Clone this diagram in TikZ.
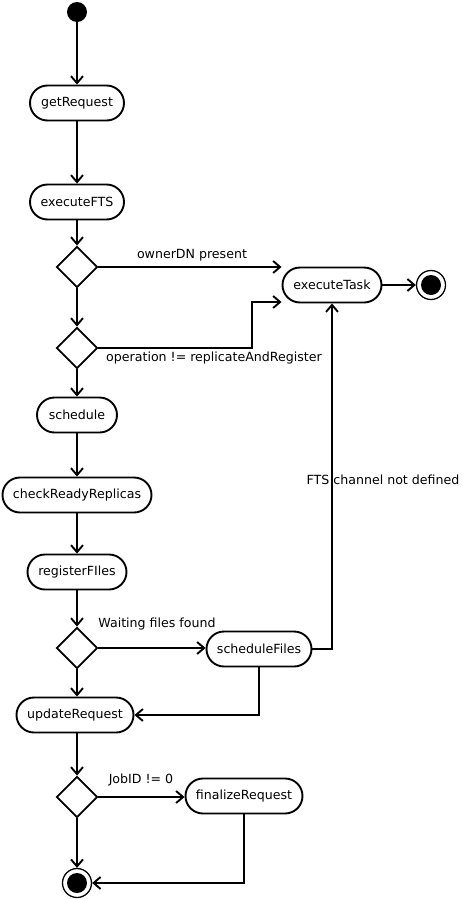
\documentclass[tikz,border=0pt]{standalone}
\usepackage{fontspec}
\setmainfont{DejaVu Sans}
\usetikzlibrary{shapes.geometric,arrows.meta}
\begin{document}
\begin{tikzpicture}[x=1pt,y=-1pt,
  font=\fontsize{12.6}{14}\selectfont,
  every node/.style={inner sep=0pt},
  act/.style={draw, line width=1.9pt, rectangle, rounded corners=17.5pt,
    minimum height=35pt},
  decision/.style={draw, line width=1.9pt, diamond, minimum width=41pt,
    minimum height=41pt},
  initial/.style={circle, fill=black, minimum size=20pt},
  final/.style={circle, draw, line width=1.3pt, minimum size=29pt},
  flow/.style={line width=1.9pt, -{Straight Barb[length=7pt,width=12pt,line width=1.9pt]}},
  lbl/.style={}]
\useasboundingbox (0,0) rectangle (463,900);

% activities
\node[initial] (start) at (77,12) {};
\node[act, minimum width=94pt] (get) at (77,103) {getRequest};
\node[act, minimum width=94pt] (fts) at (77,202) {executeFTS};
\node[decision] (d1) at (77,267) {};
\node[decision] (d2) at (77,348) {};
\node[act, minimum width=99pt] (task) at (332,285) {executeTask};
\node[final] (end1) at (431,285) {};
\fill (end1) circle (10pt);
\node[act, minimum width=80pt] (sched) at (77,415) {schedule};
\node[act, minimum width=149pt] (check) at (77,495) {checkReadyReplicas};
\node[act, minimum width=99pt] (reg) at (77,572) {registerFIles};
\node[decision] (d3) at (77,648) {};
\node[act, minimum width=105pt] (sfiles) at (259,649) {scheduleFiles};
\node[act, minimum width=117pt] (upd) at (75,715) {updateRequest};
\node[decision] (d4) at (77,797) {};
\node[act, minimum width=117pt] (fin) at (244,796) {finalizeRequest};
\node[final] (end2) at (77,883) {};
\fill (end2) circle (10pt);

\coordinate (j1) at (252,302);

% flows
\draw[flow] (start) -- (get);
\draw[flow] (get) -- (fts);
\draw[flow] (fts) -- (d1);
\draw[flow] (d1.east) -- (d1.east -| task.west);
\draw[flow] (d1) -- (d2);
\draw[flow] (d2.east) -| (j1) -- (j1 -| task.west);
\draw[flow] (d2) -- (sched);
\draw[flow] (sched) -- (check);
\draw[flow] (check) -- (reg);
\draw[flow] (reg) -- (d3);
\draw[flow] (d3.east) -- (sfiles.west |- d3.east);
\draw[flow] (sfiles.east) -| (task.south);
\draw[flow] (d3) -- (d3 |- upd.north);
\draw[flow] (sfiles.south) |- (upd.east);
\draw[flow] (d3 |- upd.south) -- (d4);
\draw[flow] (d4.east) -- (fin.west |- d4.east);
\draw[flow] (d4) -- (end2);
\draw[flow] (fin.south) |- (end2.east);
\draw[flow] (task) -- (end1);

% guards
\node[lbl] (l1) at (192,255) {ownerDN present};
\node[lbl] (l2) at (214,358) {operation != replicateAndRegister};
\node[lbl] (l3) at (383,480) {FTS channel not defined};
\node[lbl] (l4) at (157,624) {Waiting files found};
\node[lbl] (l5) at (141,780) {JobID != 0};
\end{tikzpicture}
\end{document}
